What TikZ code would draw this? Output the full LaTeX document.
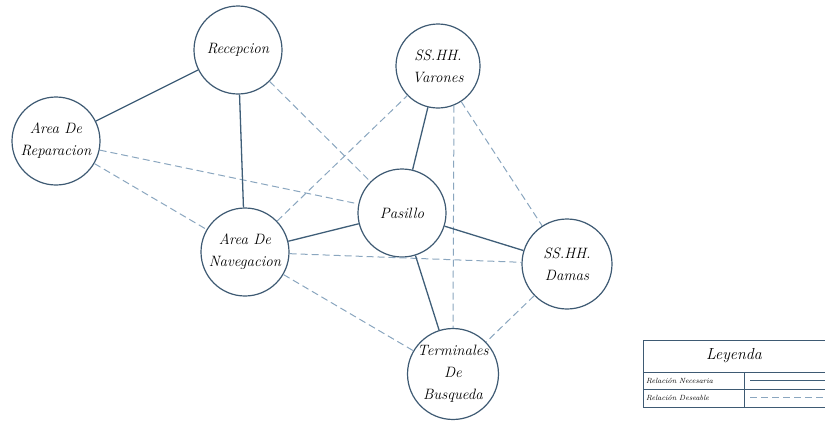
\documentclass[tikz,border=0pt]{standalone}
\begin{document}
\begin{tikzpicture}[x=1pt,y=-1pt,
  room/.style={circle,draw=circ,line width=1.2pt,fill=white,minimum size=88pt,inner sep=0pt,align=center,font=\fontsize{15}{22}\selectfont\itshape},
  nec/.style={draw=solidc,line width=1.3pt},
  des/.style={draw=dashc,line width=1pt,dash pattern=on 7pt off 4pt},
  legbox/.style={draw=circ,line width=1pt}]
\definecolor{circ}{HTML}{3E5A73}
\definecolor{solidc}{HTML}{3F5E78}
\definecolor{dashc}{HTML}{8AA6BF}
\useasboundingbox (0,0) rectangle (825,421);
\node[room] (rec) at (238,50) {Recepcion};
\node[room] (rep) at (56,141) {Area De\\Reparacion};
\node[room] (nav) at (245,252) {Area De\\Navegacion};
\node[room] (pas) at (402,213) {Pasillo};
\node[room,minimum size=84pt] (var) at (438,66) {SS.HH.\\Varones};
\node[room,minimum size=90pt] (dam) at (567,264) {SS.HH.\\Damas};
\node[room,minimum size=90pt] (ter) at (453,374) {Terminales\\De\\Busqueda};
\path[des] (rec) -- (pas);
\path[des] (rep) -- (pas);
\path[des] (rep) -- (nav);
\path[des] (nav) -- (var);
\path[des] (nav) -- (dam);
\path[des] (nav) -- (ter);
\path[des] (var.-68) -- (ter.90);
\path[des] (var) -- (dam);
\path[des] (dam) -- (ter);
\path[nec] (rec) -- (rep);
\path[nec] (rec) -- (nav);
\path[nec] (nav) -- (pas);
\path[nec] (pas) -- (var);
\path[nec] (pas) -- (dam);
\path[nec] (pas) -- (ter);
% legend
\coordinate (l1) at (643,340);
\coordinate (l2) at (830,407);
\draw[legbox] (l1) rectangle (l2);
\draw[legbox] (643,372) -- (830,372);
\draw[legbox] (643,389) -- (830,389);
\draw[legbox] (744,372) -- (744,407);
\node[font=\fontsize{16}{18}\selectfont\itshape] (leg) at (734,356) {Leyenda};
\node[font=\fontsize{7.5}{8}\selectfont\itshape,anchor=west,inner sep=1pt] (ln) at (645,380.5) {Relación Necesaria};
\node[font=\fontsize{7.5}{8}\selectfont\itshape,anchor=west,inner sep=1pt] (ld) at (645,397.5) {Relación Deseable};
\coordinate (s1) at (750,380.5);
\coordinate (s2) at (825,380.5);
\coordinate (d1) at (750,397.5);
\coordinate (d2) at (825,397.5);
\draw[nec,line width=1pt] (s1) -- (s2);
\draw[des,line width=0.8pt] (d1) -- (d2);
\end{tikzpicture}
\end{document}
